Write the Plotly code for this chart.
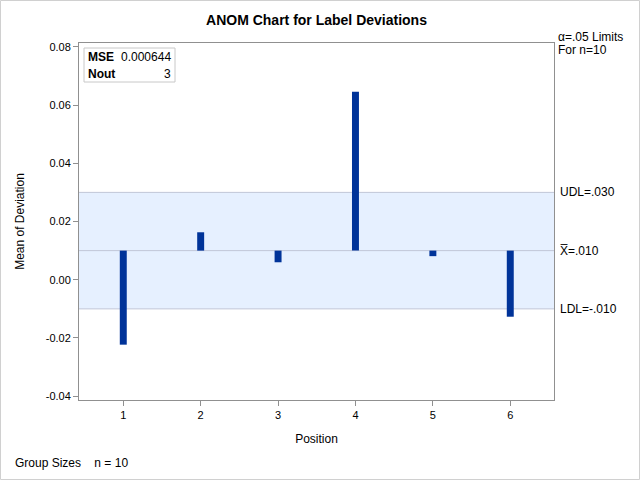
import plotly.graph_objects as go

positions = [1, 2, 3, 4, 5, 6]
means = [-0.0223, 0.0163, 0.0060, 0.0646, 0.0081, -0.0127]
center = 0.010
udl = 0.030
ldl = -0.010
ytick_vals = [-0.04, -0.02, 0.00, 0.02, 0.04, 0.06, 0.08]
ytick_text = ["-0.04", "-0.02", "0.00", "0.02", "0.04", "0.06", "0.08"]

L, R, T, B = 79, 554, 43, 400
W, H = 640, 480
pw, ph = R - L, B - T

def px(x):
    return (x - L) / pw

def py(y):
    return (B - y) / ph

fnt = "Liberation Sans, Arial, sans-serif"

fig = go.Figure()
fig.add_trace(go.Bar(
    x=positions,
    y=[m - center for m in means],
    base=[center] * len(means),
    width=0.09,
    marker=dict(color="#003399", line=dict(width=0)),
    hoverinfo="skip",
))

shapes = [
    dict(type="rect", xref="paper", yref="y", x0=0, x1=1, y0=ldl, y1=udl,
         fillcolor="#E6F0FF", line=dict(width=0), layer="below"),
    dict(type="line", xref="paper", yref="y", x0=0, x1=1, y0=udl, y1=udl,
         line=dict(color="#C0C6D8", width=1), layer="below"),
    dict(type="line", xref="paper", yref="y", x0=0, x1=1, y0=center, y1=center,
         line=dict(color="#C0C6D8", width=1), layer="below"),
    dict(type="line", xref="paper", yref="y", x0=0, x1=1, y0=ldl, y1=ldl,
         line=dict(color="#C0C6D8", width=1), layer="below"),
    # inset box
    dict(type="rect", xref="paper", yref="paper", x0=px(84), x1=px(175),
         y0=py(82), y1=py(48), line=dict(color="#C8C8C8", width=1),
         fillcolor="white", layer="above"),
    # figure border
    dict(type="rect", xref="paper", yref="paper", x0=px(0.5), x1=px(639.5),
         y0=py(479.5), y1=py(0.5), line=dict(color="#D0D0D0", width=1)),
]

def ann(text, x, y, xanchor="left", size=12, bold=False, color="#000000"):
    if bold:
        text = "<b>" + text + "</b>"
    return dict(text=text, x=px(x), y=py(y), xref="paper", yref="paper",
                xanchor=xanchor, yanchor="middle", showarrow=False,
                font=dict(family=fnt, size=size, color=color))

annotations = [
    ann("α=.05 Limits", 556, 37),
    ann("For n=10", 556, 50),
    dict(text="UDL=.030", x=1, y=udl, xref="paper", yref="y", xanchor="left",
         xshift=4, yanchor="middle", showarrow=False, font=dict(family=fnt, size=12)),
    dict(text="X\u0305=.010", x=1, y=center, xref="paper", yref="y", xanchor="left",
         xshift=4, yanchor="middle", showarrow=False, font=dict(family=fnt, size=12)),
    dict(text="LDL=-.010", x=1, y=ldl, xref="paper", yref="y", xanchor="left",
         xshift=4, yanchor="middle", showarrow=False, font=dict(family=fnt, size=12)),
    ann("MSE", 86, 57, bold=True),
    ann("0.000644", 173, 57, xanchor="right"),
    ann("Nout", 86, 74, bold=True),
    ann("3", 173, 74, xanchor="right"),
    ann("Group Sizes    n = 10", 13, 463),
]

fig.update_layout(
    width=W, height=H,
    margin=dict(l=L, r=W - R, t=T, b=H - B, pad=0),
    paper_bgcolor="white", plot_bgcolor="white",
    showlegend=False,
    title=dict(text="<b>ANOM Chart for Label Deviations</b>", x=0.5, xanchor="center",
               xref="paper", y=1 - 20 / H, yanchor="middle",
               font=dict(family=fnt, size=14, color="#000000")),
    font=dict(family=fnt, size=12, color="#000000"),
    shapes=shapes,
    annotations=annotations,
    xaxis=dict(range=[0.428, 6.565], tickvals=positions, ticktext=[str(p) for p in positions],
               showgrid=False, zeroline=False, showline=True, mirror=True,
               linecolor="#909090", linewidth=1, ticks="outside", ticklen=5,
               tickcolor="#909090", tickfont=dict(family=fnt, size=11, color="#000000"),
               title=dict(text="Position", font=dict(family=fnt, size=12), standoff=14)),
    yaxis=dict(range=[-0.0413, 0.0813], tickvals=ytick_vals, ticktext=ytick_text,
               showgrid=False, zeroline=False, showline=True, mirror=True,
               linecolor="#909090", linewidth=1, ticks="outside", ticklen=5,
               tickcolor="#909090", tickfont=dict(family=fnt, size=11, color="#000000"),
               title=dict(text="Mean of Deviation", font=dict(family=fnt, size=12), standoff=18)),
)

fig.write_html("out.html", config={"displayModeBar": False},
               post_script="document.body.style.margin='0';document.body.style.overflow='hidden';")
